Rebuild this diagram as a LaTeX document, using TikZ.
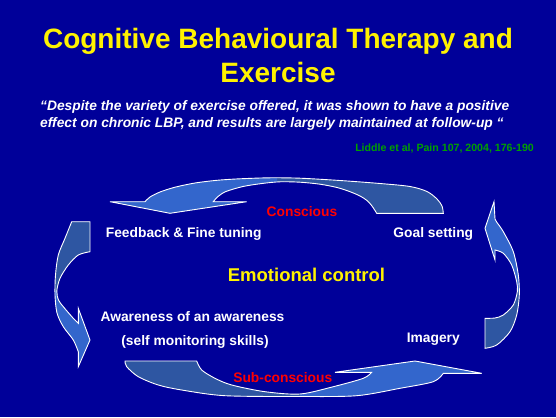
\documentclass[tikz,border=0pt]{standalone}
\usepackage{fontspec}
\setmainfont{Liberation Sans}
\usetikzlibrary{positioning}
\definecolor{slidebg}{RGB}{0,0,153}
\definecolor{ribbonlight}{RGB}{51,102,204}
\definecolor{ribbondark}{RGB}{46,86,162}
\definecolor{citegreen}{RGB}{0,160,0}
\tikzstyle{ribbon} = [draw=white, line width=0.9pt, line join=miter]
\tikzstyle{stage} = [inner sep=0pt, text=white, font=\fontsize{13.8}{16}\selectfont\bfseries]
\tikzstyle{level} = [stage, text=red]

% outlines of the four curved arrows (pixel coordinates)
\newcommand{\cycletop}{(376.7,213.3) -- (443.3,213.3) -- plot[smooth] coordinates {(443.3,213.3) (442,206) (437,199) (427,191.5) (410,186.5) (380,183.5) (340,180.5) (300,178.2) (270,177.8) (240,178.8) (217,180.3) (195,183) (175,187.2) (160,192) (150,197) (145,201.7)} -- (110,201.7) -- (170,213.3) -- (246.7,201.7) -- (213.3,201.7) -- plot[smooth] coordinates {(213.3,201.7) (218,196.5) (226,191.5) (243,186.5) (262,183.5) (280,181.8) (300,182.2) (320,184.2) (337,187.5) (350,191.7) (360,196) (367,200.5) (372,206) (376.7,213.3)} -- cycle}
\newcommand{\cycleright}{(494,201.7) -- (495,219) -- plot[smooth] coordinates {(495,219) (497,222.5) (503.3,231.7) (513.3,251.7) (518.3,275) (519.3,295) (516.7,315) (510,331.7) (496.7,345) (485,348.3)} -- (485,318.3) -- plot[smooth] coordinates {(485,318.3) (495,318) (503.3,315) (513.3,305) (517.3,291.7) (516.7,281.7) (511.7,265) (503.3,253.3) (495,250)} -- (495,260) -- (485,228.3) -- cycle}
\newcommand{\cyclebottom}{(125,361) -- (196.7,361) -- plot[smooth] coordinates {(196.7,361) (201.7,370) (215,378.3) (231.7,385) (265,391.7) (300,394) (333.3,386.7) (363.3,378.3) (371.7,372.3)} -- (335,372.3) -- (415,361) -- (481.7,373.3) -- (443.3,373.3) -- plot[smooth] coordinates {(443.3,373.3) (433.3,381.7) (400,388.3) (356.7,395.7) (300,396.5) (225,395.7) (181.7,390) (158.3,385) (138.3,376.7) (126.7,366.7) (125,361)} -- cycle}
\newcommand{\cycleleft}{(71.7,221.7) -- (90,221.7) -- (90,251.7) -- plot[smooth] coordinates {(90,251.7) (78.3,255) (68.3,265) (60,278.3) (56.8,291) (58.5,300) (63.3,306.7) (73.3,318.3) (78.3,323.3)} -- (78.3,308.3) -- (90,340) -- (78.3,366.7) -- (78.3,351.7) -- plot[smooth] coordinates {(78.3,351.7) (73.3,340) (63.3,326.7) (57,313) (55,295) (55.5,275) (58.3,255) (65,238.3) (71.7,221.7)} -- cycle}

\begin{document}
\begin{tikzpicture}[x=1pt, y=-1pt]
  \useasboundingbox[fill=slidebg] (0,0) rectangle (556,417);

  % heading, quotation and reference
  \node[inner sep=0pt, anchor=north, align=center, text=yellow, font=\fontsize{28}{34}\selectfont\bfseries] (title) at (278,27.6) {Cognitive Behavioural Therapy and\\Exercise};
  \node[inner sep=0pt, anchor=north west, align=left, text=white, font=\fontsize{13.8}{17}\selectfont\bfseries\itshape] (quote) at (40,99.9) {“Despite the variety of exercise offered, it was shown to have a positive\\effect on chronic LBP, and results are largely maintained at follow-up “};
  \node[inner sep=0pt, anchor=base east, text=citegreen, font=\fontsize{10.6}{12}\selectfont\bfseries] (cite) at (534,151) {Liddle et al, Pain 107, 2004, 176-190};

  % curved arrows: dark back half, light front half
  \fill[ribbondark] \cycletop;
  \begin{scope}
    \clip (0,0) rectangle (277,417);
    \fill[ribbonlight] \cycletop;
  \end{scope}
  \draw[ribbon] \cycletop;

  \fill[ribbondark] \cycleright;
  \begin{scope}
    \clip (0,0) rectangle (556,290);
    \fill[ribbonlight] \cycleright;
  \end{scope}
  \draw[ribbon] \cycleright;

  \fill[ribbondark] \cyclebottom;
  \begin{scope}
    \clip (300,0) rectangle (556,417);
    \fill[ribbonlight] \cyclebottom;
  \end{scope}
  \draw[ribbon] \cyclebottom;

  \fill[ribbondark] \cycleleft;
  \begin{scope}
    \clip (0,291) rectangle (556,417);
    \fill[ribbonlight] \cycleleft;
  \end{scope}
  \draw[ribbon] \cycleleft;

  % labels round the cycle
  \node[level, anchor=base] (conscious) at (302,216) {Conscious};
  \node[stage, anchor=base] (feedback) at (183.7,237.2) {Feedback \& Fine tuning};
  \node[stage, anchor=base] (goal) at (433.3,237.2) {Goal setting};
  \node[stage, anchor=base, text=yellow, font=\fontsize{18.5}{20}\selectfont\bfseries] (emotion) at (306.5,281) {Emotional control};
  \node[stage, anchor=base] (aware) at (192.5,321) {Awareness of an awareness};
  \node[stage, below=14pt of aware, xshift=2.5pt] (selfmon) {(self monitoring skills)};
  \node[stage, anchor=base] (imagery) at (433.3,342.5) {Imagery};
  \node[level, anchor=base] (subcon) at (282.8,382) {Sub-conscious};
\end{tikzpicture}
\end{document}
